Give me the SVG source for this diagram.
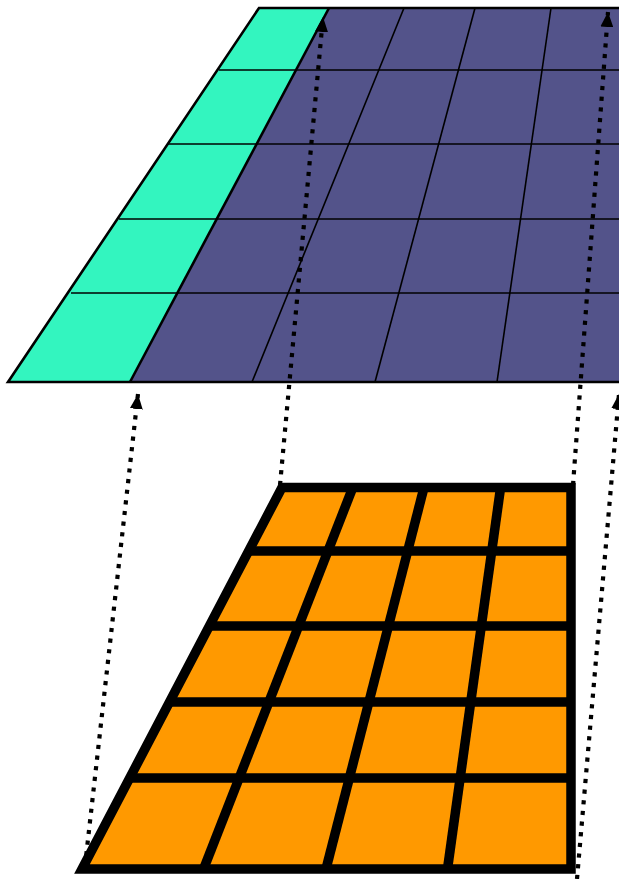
<svg xmlns="http://www.w3.org/2000/svg" width="619" height="879" viewBox="0 0 619 879">
<style>
.teal{fill:#33F5BF;stroke:none}
.purple{fill:#53538A;stroke:none}
.orange{fill:#FF9900;stroke:none}
.thin{stroke:#000;stroke-width:1.6;fill:none}
.edge{stroke:#000;stroke-width:2.6;fill:none}
.thick{stroke:#000;stroke-width:9.5;fill:none;stroke-linejoin:miter}
.dot{stroke:#000;stroke-width:4.2;fill:none;stroke-dasharray:4.2 6.5}
</style>
<defs>
<marker id="ah" markerUnits="userSpaceOnUse" viewBox="0 0 15 13" refX="15" refY="6.5" markerWidth="15" markerHeight="13" orient="auto">
<path d="M0,0 L15,6.5 L0,13 z" fill="#000"/>
</marker>
</defs>
<g id="top-grid">
<polygon class="teal" points="259,8 329,8 130,382 8,382"/>
<polygon class="purple" points="329,8 640,8 640,382 130,382"/>
<line class="thin" x1="219" y1="70" x2="640" y2="70"/>
<line class="thin" x1="168" y1="144" x2="640" y2="144"/>
<line class="thin" x1="119" y1="219" x2="640" y2="219"/>
<line class="thin" x1="71" y1="293" x2="640" y2="293"/>
<line class="thin" x1="404" y1="8" x2="252" y2="382"/>
<line class="thin" x1="475" y1="8" x2="375" y2="382"/>
<line class="thin" x1="551" y1="8" x2="497" y2="382"/>
<line class="edge" x1="329" y1="8" x2="130" y2="382"/>
<polyline class="edge" points="640,8 259,8 8,382 640,382"/>
</g>
<g id="bottom-grid">
<polygon class="orange" points="282,487.5 571,487.5 571,869 82,869"/>
<line class="thick" x1="248.7" y1="551" x2="571" y2="551"/>
<line class="thick" x1="209.4" y1="626" x2="571" y2="626"/>
<line class="thick" x1="169.5" y1="702" x2="571" y2="702"/>
<line class="thick" x1="129.7" y1="778" x2="571" y2="778"/>
<line class="thick" x1="352.8" y1="487.5" x2="203.6" y2="869"/>
<line class="thick" x1="424" y1="487.5" x2="326" y2="869"/>
<line class="thick" x1="500.6" y1="487.5" x2="447.5" y2="869"/>
<polygon class="thick" points="282,487.5 571,487.5 571,869 82,869"/>
</g>
<g id="connectors">
<line class="dot" x1="85" y1="866" x2="138" y2="394" marker-end="url(#ah)"/>
<line class="dot" x1="280" y1="485" x2="323" y2="17" marker-end="url(#ah)"/>
<line class="dot" x1="573" y1="485" x2="608" y2="12" marker-end="url(#ah)"/>
<line class="dot" x1="577" y1="879" x2="619" y2="394" marker-end="url(#ah)"/>
</g>
</svg>
